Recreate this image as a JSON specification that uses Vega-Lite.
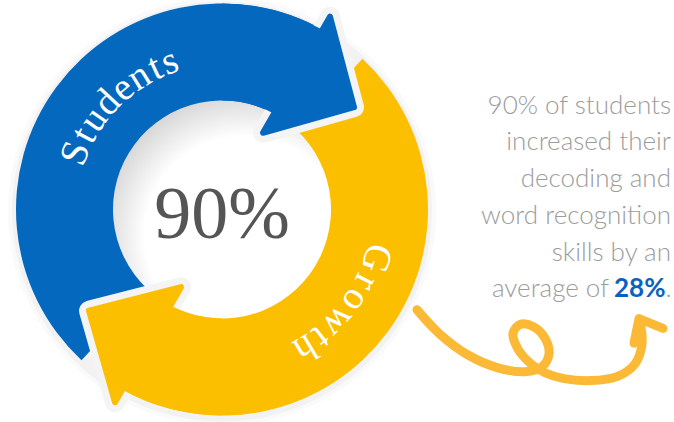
{
  "$schema": "https://vega.github.io/schema/vega-lite/v6.json",
  "width": 674,
  "height": 422,
  "padding": 0,
  "autosize": {"type": "fit", "contains": "padding"},
  "background": "white",
  "config": {"view": {"stroke": null}},
  "encoding": {
    "x": {"field": "x", "type": "quantitative", "scale": {"domain": [0, 674], "nice": false, "zero": false}, "axis": null},
    "y": {"field": "y", "type": "quantitative", "scale": {"domain": [0, 422], "nice": false, "zero": false, "reverse": true}, "axis": null}
  },
  "layer": [
    {
      "data": {"values": [{"x": 222, "y": 215, "a0": 0, "a1": 360}]},
      "mark": {"type": "arc", "radius": 214, "radius2": 195, "fill": "#000000", "opacity": 0.018},
      "encoding": {
        "theta": {"field": "a0", "type": "quantitative", "stack": null, "scale": {"domain": [0, 360], "range": [0, 6.283185307179586]}},
        "theta2": {"field": "a1"}
      }
    },
    {
      "data": {"values": [{"x": 222, "y": 215, "a0": 0, "a1": 360}]},
      "mark": {"type": "arc", "radius": 210, "radius2": 195, "fill": "#000000", "opacity": 0.03},
      "encoding": {
        "theta": {"field": "a0", "type": "quantitative", "stack": null},
        "theta2": {"field": "a1"}
      }
    },
    {
      "data": {"values": [{"x": 222, "y": 213, "a0": 0, "a1": 360}]},
      "mark": {
        "type": "arc", "radius": 111, "radius2": 0,
        "fill": {"gradient": "radial", "x1": 0.6, "y1": 0.62, "r1": 0, "x2": 0.6, "y2": 0.62, "r2": 0.64,
          "stops": [{"offset": 0, "color": "#ffffff"}, {"offset": 0.7, "color": "#ffffff"}, {"offset": 1, "color": "#d8d8d8"}]}
      },
      "encoding": {
        "theta": {"field": "a0", "type": "quantitative", "stack": null},
        "theta2": {"field": "a1"}
      }
    },
    {
      "data": {"values": [{"part": "Students", "x": 222, "y": 213, "a0": 223, "a1": 390}]},
      "mark": {"type": "arc", "radius": 206, "radius2": 109, "fill": "#0468bf"},
      "encoding": {
        "theta": {"field": "a0", "type": "quantitative", "stack": null},
        "theta2": {"field": "a1"}
      }
    },
    {
      "data": {"values": [{"part": "Growth", "x": 222, "y": 213, "a0": 43, "a1": 210}]},
      "mark": {"type": "arc", "radius": 206, "radius2": 109, "fill": "#fcbf00"},
      "encoding": {
        "theta": {"field": "a0", "type": "quantitative", "stack": null},
        "theta2": {"field": "a1"}
      }
    },
    {
      "data": {"values": [{"i": 0, "x": 115, "y": 409}, {"i": 1, "x": 89, "y": 316}, {"i": 2, "x": 181, "y": 292}]},
      "mark": {"type": "line", "interpolate": "linear-closed", "fill": "#f4f4f4", "stroke": "#f4f4f4", "strokeWidth": 20, "strokeJoin": "round"},
      "encoding": {"order": {"field": "i"}}
    },
    {
      "data": {"values": [{"part": "Growth", "x": 222, "y": 213, "a0": 180, "a1": 210}]},
      "mark": {"type": "arc", "radius": 206, "radius2": 109, "fill": "#fcbf00"},
      "encoding": {
        "theta": {"field": "a0", "type": "quantitative", "stack": null},
        "theta2": {"field": "a1"}
      }
    },
    {
      "data": {"values": [{"i": 0, "x": 115, "y": 409}, {"i": 1, "x": 89, "y": 316}, {"i": 2, "x": 181, "y": 292}]},
      "mark": {"type": "line", "interpolate": "linear-closed", "fill": "#fcbf00", "stroke": "#fcbf00", "strokeWidth": 6, "strokeJoin": "round"},
      "encoding": {"order": {"field": "i"}}
    },
    {
      "data": {"values": [{"i": 0, "x": 330, "y": 17}, {"i": 1, "x": 354, "y": 109}, {"i": 2, "x": 263, "y": 135}]},
      "mark": {"type": "line", "interpolate": "linear-closed", "fill": "#f4f4f4", "stroke": "#f4f4f4", "strokeWidth": 20, "strokeJoin": "round"},
      "encoding": {"order": {"field": "i"}}
    },
    {
      "data": {"values": [{"part": "Students", "x": 222, "y": 213, "a0": 360, "a1": 390}]},
      "mark": {"type": "arc", "radius": 206, "radius2": 109, "fill": "#0468bf"},
      "encoding": {
        "theta": {"field": "a0", "type": "quantitative", "stack": null},
        "theta2": {"field": "a1"}
      }
    },
    {
      "data": {"values": [{"i": 0, "x": 330, "y": 17}, {"i": 1, "x": 354, "y": 109}, {"i": 2, "x": 263, "y": 135}]},
      "mark": {"type": "line", "interpolate": "linear-closed", "fill": "#0468bf", "stroke": "#0468bf", "strokeWidth": 6, "strokeJoin": "round"},
      "encoding": {"order": {"field": "i"}}
    },
    {
      "data": {"values": [
        {"x": 222, "y": 213, "ch": "S", "t": 291},
        {"x": 222, "y": 213, "ch": "t", "t": 298.3},
        {"x": 222, "y": 213, "ch": "u", "t": 305},
        {"x": 222, "y": 213, "ch": "d", "t": 313},
        {"x": 222, "y": 213, "ch": "e", "t": 320.6},
        {"x": 222, "y": 213, "ch": "n", "t": 328},
        {"x": 222, "y": 213, "ch": "t", "t": 334.8},
        {"x": 222, "y": 213, "ch": "s", "t": 340.5}
      ]},
      "mark": {"type": "text", "radius": 157, "font": "Liberation Serif", "fontSize": 39, "fill": "#ffffff", "align": "center", "baseline": "middle"},
      "encoding": {
        "theta": {"field": "t", "type": "quantitative", "stack": null},
        "angle": {"field": "t", "type": "quantitative", "scale": {"domain": [0, 360], "range": [0, 360]}},
        "text": {"field": "ch"}
      }
    },
    {
      "data": {"values": [
        {"x": 222, "y": 213, "ch": "G", "t": 107.5},
        {"x": 222, "y": 213, "ch": "r", "t": 116.8},
        {"x": 222, "y": 213, "ch": "o", "t": 124.3},
        {"x": 222, "y": 213, "ch": "w", "t": 134},
        {"x": 222, "y": 213, "ch": "t", "t": 142.3},
        {"x": 222, "y": 213, "ch": "h", "t": 149}
      ]},
      "mark": {"type": "text", "radius": 162, "font": "Liberation Serif", "fontSize": 39, "fill": "#ffffff", "align": "center", "baseline": "middle"},
      "encoding": {
        "theta": {"field": "t", "type": "quantitative", "stack": null},
        "angle": {"field": "t", "type": "quantitative"},
        "text": {"field": "ch"}
      }
    },
    {
      "data": {"values": [{"x": 222, "y": 242, "label": "90%"}]},
      "mark": {"type": "text", "font": "Liberation Serif", "fontSize": 74, "fill": "#555555", "align": "center", "baseline": "alphabetic"},
      "encoding": {"text": {"field": "label"}}
    },
    {
      "data": {"values": [
        {"x": 671, "y": 116, "label": "90% of students"},
        {"x": 671, "y": 153, "label": "increased their"},
        {"x": 671, "y": 190.5, "label": "decoding and"},
        {"x": 671, "y": 228, "label": "word recognition"},
        {"x": 671, "y": 265, "label": "skills by an"},
        {"x": 609, "y": 302.5, "label": "average of"},
        {"x": 671.5, "y": 302.5, "label": "."}
      ]},
      "mark": {"type": "text", "font": "Lato", "fontWeight": 300, "fontSize": 26, "fill": "#9c9c9c", "align": "right", "baseline": "alphabetic"},
      "encoding": {"text": {"field": "label"}}
    },
    {
      "data": {"values": [{"x": 665.5, "y": 302.5, "label": "28%"}]},
      "mark": {"type": "text", "font": "Lato", "fontWeight": "bold", "fontSize": 26, "fill": "#0a62bf", "align": "right", "baseline": "alphabetic"},
      "encoding": {"text": {"field": "label"}}
    },
    {
      "data": {"values": [
        {"i": 0, "x": 417, "y": 315},
        {"i": 1, "x": 440, "y": 340},
        {"i": 2, "x": 468, "y": 361},
        {"i": 3, "x": 498, "y": 374},
        {"i": 4, "x": 525, "y": 378},
        {"i": 5, "x": 542, "y": 373},
        {"i": 6, "x": 549, "y": 360},
        {"i": 7, "x": 545, "y": 344},
        {"i": 8, "x": 533, "y": 332},
        {"i": 9, "x": 520, "y": 330},
        {"i": 10, "x": 513, "y": 339},
        {"i": 11, "x": 518, "y": 355},
        {"i": 12, "x": 531, "y": 370},
        {"i": 13, "x": 545, "y": 379},
        {"i": 14, "x": 564, "y": 385},
        {"i": 15, "x": 591, "y": 387},
        {"i": 16, "x": 617, "y": 383},
        {"i": 17, "x": 635, "y": 370},
        {"i": 18, "x": 642, "y": 350},
        {"i": 19, "x": 640, "y": 327}
      ]},
      "mark": {"type": "line", "interpolate": "catmull-rom", "stroke": "#fbb935", "strokeWidth": 9, "strokeCap": "round", "strokeJoin": "round"},
      "encoding": {"order": {"field": "i"}}
    },
    {
      "data": {"values": [{"i": 0, "x": 634, "y": 349}, {"i": 1, "x": 639, "y": 324}, {"i": 2, "x": 663, "y": 334}]},
      "mark": {"type": "line", "interpolate": "linear", "stroke": "#fbb935", "strokeWidth": 9, "strokeCap": "round", "strokeJoin": "round"},
      "encoding": {"order": {"field": "i"}}
    }
  ]
}
